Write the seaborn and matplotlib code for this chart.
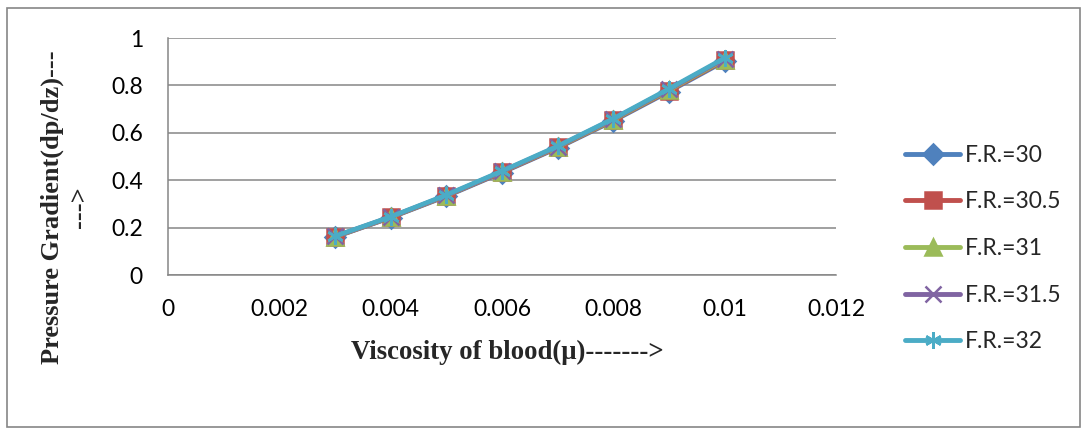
import matplotlib
matplotlib.use("Agg")
import matplotlib.pyplot as plt
import seaborn as sns
import pandas as pd
from matplotlib.patches import Rectangle

viscosity = [0.003, 0.004, 0.005, 0.006, 0.007, 0.008, 0.009, 0.010]
fr30 = [0.160, 0.242, 0.332, 0.432, 0.536, 0.650, 0.774, 0.902]
fr30_5 = [0.161, 0.243, 0.334, 0.434, 0.538, 0.653, 0.777, 0.906]
fr31 = [0.162, 0.244, 0.335, 0.436, 0.540, 0.655, 0.780, 0.909]
fr31_5 = [0.163, 0.245, 0.336, 0.437, 0.542, 0.658, 0.783, 0.913]
fr32 = [0.164, 0.246, 0.338, 0.439, 0.544, 0.660, 0.786, 0.916]
series_names = ["F.R.=30", "F.R.=30.5", "F.R.=31", "F.R.=31.5", "F.R.=32"]
xticks = [0, 0.002, 0.004, 0.006, 0.008, 0.010, 0.012]
xtick_labels = ["0", "0.002", "0.004", "0.006", "0.008", "0.01", "0.012"]
yticks = [0, 0.2, 0.4, 0.6, 0.8, 1.0]
ytick_labels = ["0", "0.2", "0.4", "0.6", "0.8", "1"]

sns.set_style("white")
plt.rcParams["font.family"] = ["Lato", "DejaVu Sans"]

colors = ["#4F81BD", "#C0504D", "#9BBB59", "#8064A2", "#4BACC6"]
markers = ["D", "s", "^", "x", (6, 2, 0)]
msizes = [10, 12, 12, 11, 12]

fig = plt.figure(figsize=(10.85, 4.3), dpi=100)
ax = fig.add_axes([168 / 1085, 1 - 275 / 430, (836 - 168) / 1085, (275 - 38) / 430])

for name, vals, c, m, ms in zip(series_names, [fr30, fr30_5, fr31, fr31_5, fr32],
                                colors, markers, msizes):
    d = pd.DataFrame({"x": viscosity, "y": vals})
    sns.lineplot(data=d, x="x", y="y", color=c, marker=m, markersize=ms,
                 markeredgewidth=1.8, markeredgecolor=c, linewidth=3.3, label=name, ax=ax)

ax.set_xlim(0, 0.012)
ax.set_ylim(0, 1)
ax.set_xticks(xticks)
ax.set_xticklabels(xtick_labels)
ax.set_yticks(yticks)
ax.set_yticklabels(ytick_labels)
ax.yaxis.grid(True, color="#868686", linewidth=1.1)
ax.xaxis.grid(False)
for s in ["top", "right"]:
    ax.spines[s].set_visible(False)
for s in ["left", "bottom"]:
    ax.spines[s].set_color("#868686")
    ax.spines[s].set_linewidth(1.1)
ax.tick_params(axis="both", direction="out", length=6, width=1.1, color="#868686",
               labelsize=16.5, labelcolor="black")
ax.tick_params(axis="x", pad=11)
ax.tick_params(axis="y", pad=12)
ax.set_xlabel("")
ax.set_ylabel("")

fig.text(507 / 1085, 1 - 352 / 430, "Viscosity of blood(μ)------->",
         fontfamily="Liberation Serif", fontweight="bold", fontsize=19.3,
         ha="center", va="center")
fig.text(66 / 1085, 1 - 207 / 430, "Pressure Gradient(dp/dz)---\n--->",
         fontfamily="Liberation Serif", fontweight="bold", fontsize=19,
         ha="center", va="center", rotation=90, multialignment="center",
         linespacing=1.25)

handles, labels = ax.get_legend_handles_labels()
leg = ax.legend(handles, labels, loc="center left",
                bbox_to_anchor=(905 / 1085, 1 - 248.5 / 430),
                bbox_transform=fig.transFigure, frameon=False, fontsize=16.5,
                handlelength=2.4, handletextpad=0.2, labelspacing=1.12,
                borderpad=0, borderaxespad=0)
for h in leg.legend_handles:
    h.set_linewidth(3.5)

fig.patches.append(Rectangle((7 / 1085, 3 / 430), 1073 / 1085, 419 / 430,
                             transform=fig.transFigure, fill=False,
                             edgecolor="#868686", linewidth=1.2))

fig.savefig("out.png", dpi=100)
